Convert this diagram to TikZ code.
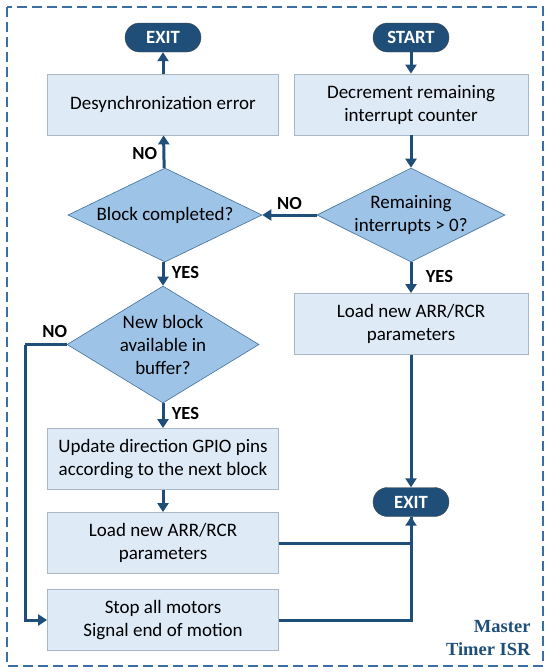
\documentclass[tikz,border=0pt]{standalone}
\usepackage{fontspec}
\setmainfont{Carlito}
\newfontfamily\serifbold{Liberation Serif}
\usetikzlibrary{shapes.geometric,arrows.meta}
\definecolor{dkblue}{HTML}{1F4E79}
\definecolor{frameblue}{HTML}{3A6EA5}
\definecolor{boxfill}{HTML}{DEEBF7}
\definecolor{boxline}{HTML}{A9B7C6}
\definecolor{diafill}{HTML}{9DC3E6}
\definecolor{dialine}{HTML}{41719C}
\tikzset{
  procbox/.style={draw=boxline, fill=boxfill, line width=0.8pt, minimum width=231pt, minimum height=61pt, align=center, inner sep=0pt, font=\fontsize{19}{23}\selectfont},
  term/.style={draw=black!70, fill=dkblue, rounded corners=14.5pt, minimum width=76pt, minimum height=29pt, inner sep=0pt, text=white, font=\fontsize{18.7}{20}\selectfont\bfseries},
  dia/.style={diamond, draw=dialine, fill=diafill, line width=0.6pt, inner sep=0pt},
  diatext/.style={align=center, font=\fontsize{19}{23}\selectfont},
  flow/.style={draw=dkblue, line width=3pt, -{Triangle[width=11pt,length=9pt]}},
  plain/.style={draw=dkblue, line width=3pt},
  lab/.style={font=\fontsize{18.5}{20}\selectfont\bfseries},
}
\begin{document}
\begin{tikzpicture}[x=1pt,y=-1pt]
\useasboundingbox (0,0) rectangle (550,672);
\draw[frameblue, line width=1.3pt, dash pattern=on 10pt off 5pt] (7,7) rectangle (543,666);

\node[term] (exit1) at (163,37.5) {EXIT};
\node[term] (start) at (411,37.5) {START};
\node[procbox] (desync) at (163,104.5) {Desynchronization error};
\node[procbox, minimum width=234pt] (decr) at (411,104.5) {Decrement remaining\\interrupt counter};
\node[dia, minimum width=194pt, minimum height=94pt] (blk) at (165,215) {};
\node[diatext] (blkt) at (blk.center) {Block completed?};
\node[dia, minimum width=188pt, minimum height=94pt] (rem) at (411,215) {};
\node[diatext] (remt) at (rem.center) {Remaining\\interrupts > 0?};
\node[procbox, minimum width=234pt] (load1) at (411,324) {Load new ARR/RCR\\parameters};
\node[dia, minimum width=192pt, minimum height=117pt] (nb) at (163,344.5) {};
\node[diatext] (nbt) at (nb.center) {New block\\available in\\buffer?};
\node[procbox] (upd) at (163,459) {Update direction GPIO pins\\according to the next block};
\node[procbox] (load2) at (163,543) {Load new ARR/RCR\\parameters};
\node[procbox] (stop) at (163,620) {Stop all motors\\Signal end of motion};
\node[term] (exit2) at (411,502) {EXIT};
\coordinate (nocorner) at (25,344.5);

\draw[flow] (start) -- (decr);
\draw[flow] (decr) -- (rem);
\draw[flow] (rem) -- (blk.east) node[lab, pos=0.5, above, yshift=1pt] (no1) {NO};
\draw[flow] (blk) -- (desync) node[lab, pos=0.45, left, xshift=-2pt] (no2) {NO};
\draw[flow] (desync) -- (exit1);
\draw[flow] (rem) -- (load1) node[lab, pos=0.45, right, xshift=10pt] (yes1) {YES};
\draw[flow] (blk.south -| nb.north) -- (nb) node[lab, pos=0.45, right, xshift=4pt] (yes2) {YES};
\draw[flow] (nb) -- (upd) node[lab, pos=0.4, right, xshift=4pt] (yes3) {YES};
\draw[flow] (upd) -- (load2);
\draw[flow] (load1) -- (exit2);
\draw[plain] (load2.east) -| (exit2.south);
\draw[flow] (stop.east) -| (exit2.south);
\draw[plain] (nb.west) -- (nocorner);
\draw[flow] (nocorner) |- (stop.west);
\node[lab, above left, xshift=4pt, yshift=3pt] (no3) at (nb.west) {NO};

\node[align=right, anchor=south east, text=dkblue, font=\fontsize{18.5}{23}\selectfont\serifbold\bfseries] (isr) at (534,659) {Master\\Timer ISR};
\end{tikzpicture}
\end{document}
